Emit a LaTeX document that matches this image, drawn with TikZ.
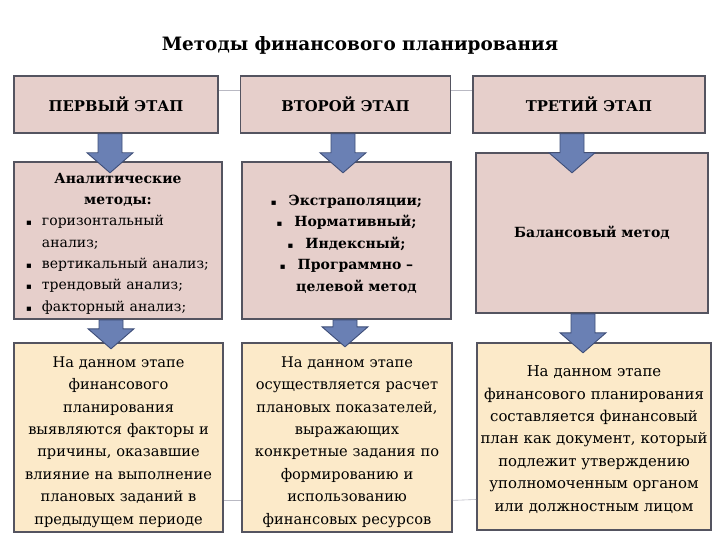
\documentclass[tikz,border=0pt]{standalone}
\usepackage{fontspec}
\setmainfont{DejaVu Serif}
\newfontfamily\symf{DejaVu Sans}
\usetikzlibrary{calc}
\definecolor{pinkfill}{RGB}{230,207,203}
\definecolor{yelfill}{RGB}{252,234,201}
\definecolor{boxline}{RGB}{84,84,96}
\definecolor{arrfill}{RGB}{106,128,180}
\definecolor{arrline}{RGB}{62,78,120}
\definecolor{faintline}{RGB}{185,185,195}
\newcommand\bitem[1]{\par\hangindent=19pt\hangafter=1\noindent\makebox[19pt][l]{\hspace{3pt}\symf\fontsize{8.5}{8.5}\selectfont ▪}#1}
\newcommand\cbul{{\symf\fontsize{8.5}{8.5}\selectfont ▪}\hspace{12pt}}
\newcommand\barrow[2]{%
  \draw[barr] let \p1=(#1), \p2=(#2) in
    (\x1-12pt,\y1) -- (\x1+12pt,\y1) -- (\x1+12pt,\y2+20pt) -- (\x1+23pt,\y2+20pt)
    -- (\x1,\y2) -- (\x1-23pt,\y2+20pt) -- (\x1-12pt,\y2+20pt) -- cycle;}
\begin{document}
\begin{tikzpicture}[x=1pt,y=-1pt,
  box/.style={draw=boxline, line width=1.6pt, inner sep=0pt, anchor=center},
  hdr/.style={box, fill=pinkfill, font=\fontsize{14.8}{17}\selectfont\bfseries},
  midbox/.style={box, fill=pinkfill},
  botbox/.style={box, fill=yelfill},
  txt/.style={inner sep=0pt, anchor=center},
  bottxt/.style={txt, text width=207pt, font=\fontsize{14.6}{22.4}\selectfont},
  barr/.style={fill=arrfill, draw=arrline, line width=0.9pt, line join=miter},
  link/.style={draw=faintline, line width=0.6pt}]
\useasboundingbox (0,0) rectangle (720,540);

\node[font=\fontsize{18.4}{20}\selectfont\bfseries] (title) at (360,45) {Методы финансового планирования};

\node[hdr, minimum width=204pt, minimum height=57pt] (h1) at (116,104.5) {ПЕРВЫЙ ЭТАП};
\node[hdr, minimum width=210pt, minimum height=57pt] (h2) at (345.5,104.5) {ВТОРОЙ ЭТАП};
\node[hdr, minimum width=232pt, minimum height=57pt] (h3) at (589,104.5) {ТРЕТИЙ ЭТАП};

\node[midbox, minimum width=208pt, minimum height=157pt] (m1) at (118,240.5) {};
\node[txt, text width=190pt, font=\fontsize{14}{21.3}\selectfont] (m1t) at ($(m1)+(0,3)$)
  {\raggedright{\centering\bfseries Аналитические\\методы:\par}%
   \bitem{горизонтальный\newline анализ;}%
   \bitem{вертикальный анализ;}%
   \bitem{трендовый анализ;}%
   \bitem{факторный анализ;}\par};
\node[midbox, minimum width=209pt, minimum height=157pt] (m2) at (346.5,240.5) {};
\node[txt, text width=205pt, font=\fontsize{14}{21.5}\selectfont\bfseries] (m2t) at ($(m2)+(0,3.5)$)
  {\centering\cbul Экстраполяции;\\ \cbul Нормативный;\\ \cbul Индексный;\\
   \cbul Программно –\\ \hspace*{20pt}целевой метод\par};
\node[midbox, minimum width=232pt, minimum height=160pt,
  font=\fontsize{14}{19}\selectfont\bfseries] (m3) at (592,233) {Балансовый метод};

\node[botbox, minimum width=209pt, minimum height=189pt] (b1) at (118.5,437.5) {};
\node[bottxt] (b1t) at ($(b1)+(0,4.5)$)
  {\centering На данном этапе\\ финансового\\ планирования\\ выявляются факторы и\\
   причины, оказавшие\\ влияние на выполнение\\ плановых заданий в\\ предыдущем периоде\par};
\node[botbox, minimum width=210pt, minimum height=189pt] (b2) at (347,437.5) {};
\node[bottxt] (b2t) at ($(b2)+(0,4.5)$)
  {\centering На данном этапе\\ осуществляется расчет\\ плановых показателей,\\ выражающих\\
   конкретные задания по\\ формированию и\\ использованию\\ финансовых ресурсов\par};
\node[botbox, minimum width=234pt, minimum height=187pt] (b3) at (594,436.5) {};
\node[bottxt, text width=230pt, font=\fontsize{14.9}{22.4}\selectfont] (b3t) at ($(b3)+(0,3)$)
  {\centering На данном этапе\\ финансового планирования\\ составляется финансовый\\
   план как документ, который\\ подлежит утверждению\\ уполномоченным органом\\ или должностным лицом\par};

\draw[link] ($(h1.north east)!0.25!(h1.south east)$) -- ($(h2.north west)!0.25!(h2.south west)$);
\draw[link] ($(h2.north east)!0.25!(h2.south east)$) -- ($(h3.north west)!0.25!(h3.south west)$);
\draw[link] ($(b1.north east)!0.83!(b1.south east)$) -- ($(b2.north west)!0.83!(b2.south west)$);
\draw[link] ($(b2.north east)!0.83!(b2.south east)$) -- ($(b3.north west)!0.834!(b3.south west)$);

\barrow{$(h1.south)+(-6,0)$}{$(h1.south)+(-6,39)$}
\barrow{$(h2.south)+(-2.5,0)$}{$(h2.south)+(-2.5,39)$}
\barrow{$(h3.south)+(-17,0)$}{$(h3.south)+(-17,39)$}
\barrow{$(m1.south)+(-7,0)$}{$(m1.south)+(-7,29)$}
\barrow{$(m2.south)+(-1.5,0)$}{$(m2.south)+(-1.5,27)$}
\barrow{$(m3.south)+(-9,0)$}{$(m3.south)+(-9,39)$}
\end{tikzpicture}
\end{document}
